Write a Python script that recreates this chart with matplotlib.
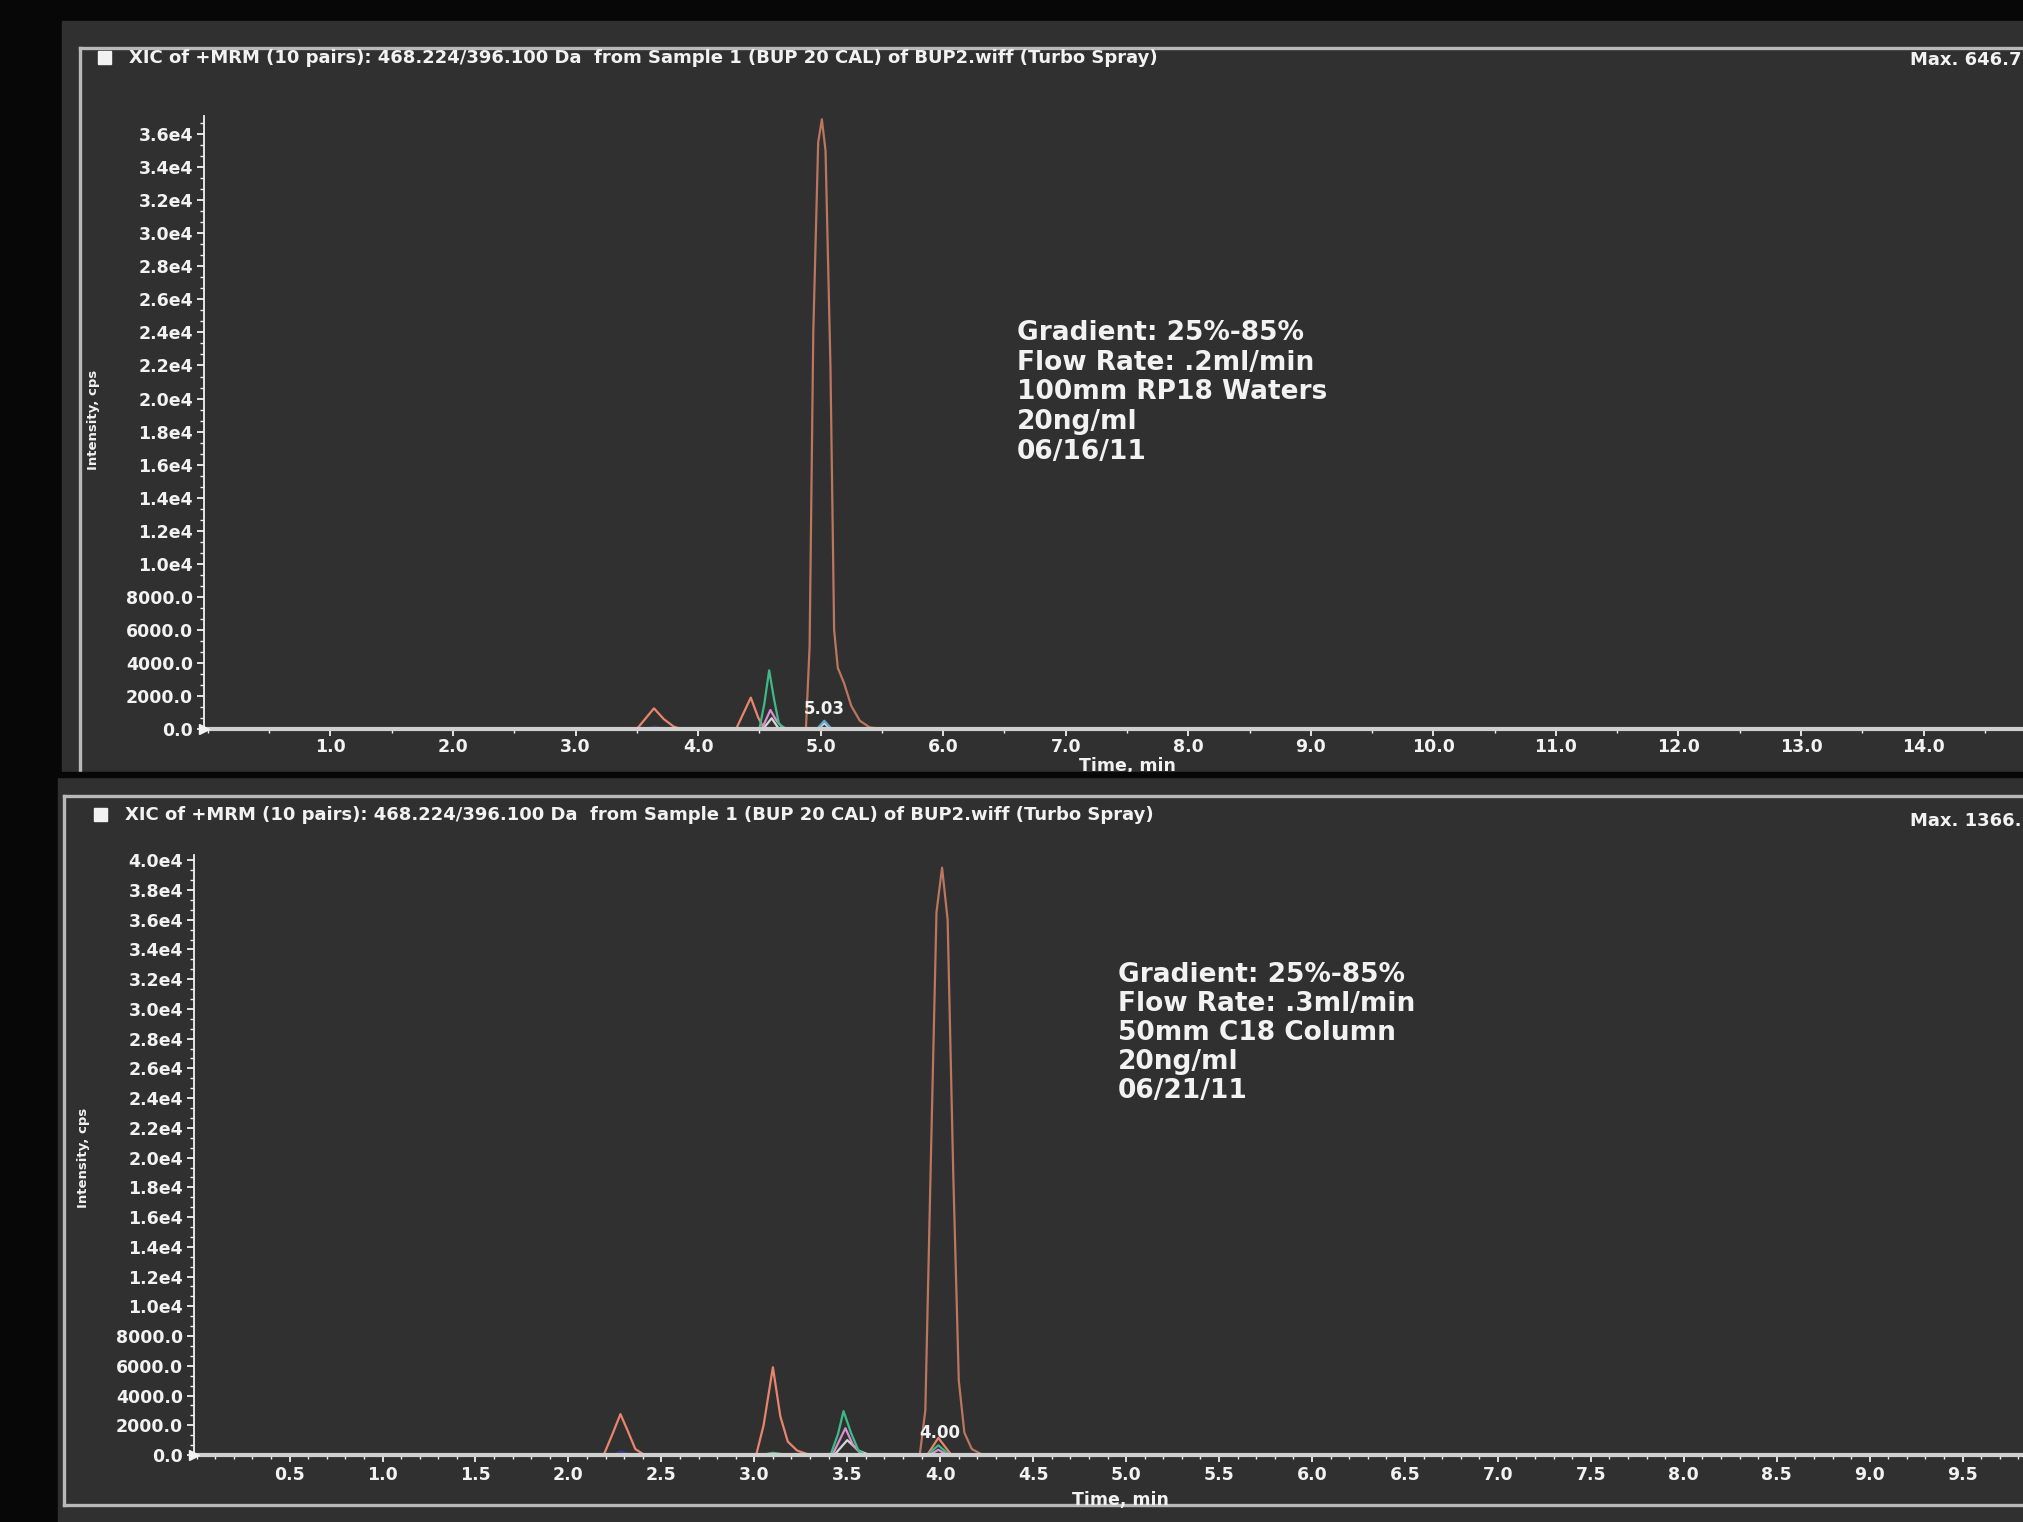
#!/usr/bin/env python3
"""
Two XIC chromatogram screenshots (BUP 20 CAL), stacked: 100mm RP18 run on top,
50mm C18 run below. Saves out.png.
"""

import matplotlib.pyplot as plt
from matplotlib.patches import Rectangle
from matplotlib.lines import Line2D
from matplotlib.ticker import FixedLocator, AutoMinorLocator, FuncFormatter

W, H = 2024, 1522

TITLE = "XIC of +MRM (10 pairs): 468.224/396.100 Da  from Sample 1 (BUP 20 CAL) of BUP2.wiff (Turbo Spray)"

# ---- top run ----
TOP_MAX = "Max. 646.7"
TOP_NOTES = ["Gradient: 25%-85%", "Flow Rate: .2ml/min", "100mm RP18 Waters", "20ng/ml", "06/16/11"]
TOP_RT = 5.03
TOP_RT_LABEL = "5.03"
TOP_YTICKS = [0, 2000, 4000, 6000, 8000, 10000, 12000, 14000, 16000, 18000,
              20000, 22000, 24000, 26000, 28000, 30000, 32000, 34000, 36000]
TOP_XTICKS = [1.0, 2.0, 3.0, 4.0, 5.0, 6.0, 7.0, 8.0, 9.0, 10.0, 11.0, 12.0, 13.0, 14.0]

TOP_BROWN_T = [0.0, 4.88, 4.91, 4.94, 4.98, 5.01, 5.04, 5.08, 5.11, 5.14, 5.19, 5.25, 5.32, 5.40, 5.50, 14.85]
TOP_BROWN_I = [0, 0, 5000, 24000, 35500, 36900, 35000, 22000, 6000, 3700, 2800, 1400, 500, 100, 0, 0]
TOP_SALMON_T = [0.0, 3.50, 3.64, 3.72, 3.80, 3.86, 4.31, 4.43, 4.49, 4.54, 14.85]
TOP_SALMON_I = [0, 0, 1250, 600, 150, 0, 0, 1900, 700, 0, 0]
TOP_GREEN_T = [0.0, 4.50, 4.54, 4.58, 4.62, 4.66, 4.72, 14.85]
TOP_GREEN_I = [0, 0, 1500, 3550, 1800, 300, 0, 0]
TOP_PINK_T = [0.0, 4.52, 4.59, 4.64, 4.70, 14.85]
TOP_PINK_I = [0, 0, 1150, 500, 0, 0]
TOP_WHITE_T = [0.0, 4.53, 4.60, 4.66, 4.98, 5.03, 5.08, 14.85]
TOP_WHITE_I = [0, 0, 650, 0, 0, 350, 0, 0]
TOP_BLUE_T = [0.0, 4.97, 5.03, 5.09, 14.85]
TOP_BLUE_I = [0, 0, 500, 0, 0]
TOP_FILL_T = [3.52, 3.64, 3.78]
TOP_FILL_I = [0, 250, 0]

# ---- bottom run ----
BOT_MAX = "Max. 1366."
BOT_NOTES = ["Gradient: 25%-85%", "Flow Rate: .3ml/min", "50mm C18 Column", "20ng/ml", "06/21/11"]
BOT_RT = 4.00
BOT_RT_LABEL = "4.00"
BOT_YTICKS = [0, 2000, 4000, 6000, 8000, 10000, 12000, 14000, 16000, 18000, 20000,
              22000, 24000, 26000, 28000, 30000, 32000, 34000, 36000, 38000, 40000]
BOT_XTICKS = [0.5, 1.0, 1.5, 2.0, 2.5, 3.0, 3.5, 4.0, 4.5, 5.0, 5.5, 6.0, 6.5, 7.0, 7.5, 8.0, 8.5, 9.0, 9.5]

BOT_BROWN_T = [0.0, 3.89, 3.92, 3.95, 3.98, 4.01, 4.04, 4.07, 4.10, 4.13, 4.17, 4.23, 9.84]
BOT_BROWN_I = [0, 0, 3000, 20000, 36500, 39500, 36000, 19000, 5000, 1500, 400, 0, 0]
BOT_SALMON_T = [0.0, 2.19, 2.24, 2.28, 2.32, 2.36, 2.41, 3.01, 3.05, 3.10, 3.14, 3.18, 3.23, 3.30,
                3.93, 3.99, 4.06, 9.84]
BOT_SALMON_I = [0, 0, 1500, 2750, 1600, 400, 0, 0, 2000, 5900, 2600, 900, 300, 0,
                0, 1150, 0, 0]
BOT_GREEN_T = [0.0, 3.04, 3.10, 3.18, 3.41, 3.45, 3.48, 3.52, 3.56, 3.60, 3.93, 3.99, 4.05, 9.84]
BOT_GREEN_I = [0, 0, 150, 0, 0, 1400, 2950, 1500, 300, 0, 0, 650, 0, 0]
BOT_PINK_T = [0.0, 3.42, 3.49, 3.53, 3.58, 3.94, 3.99, 4.04, 9.84]
BOT_PINK_I = [0, 0, 1800, 700, 0, 0, 350, 0, 0]
BOT_WHITE_T = [0.0, 3.43, 3.50, 3.56, 3.62, 9.84]
BOT_WHITE_I = [0, 0, 1000, 300, 0, 0]
BOT_FILL_T = [2.21, 2.28, 2.37]
BOT_FILL_I = [0, 350, 0]

SCREEN = "#303030"
INK = "#f2f2f2"
FRAME = "#b9b9b9"


def fx(px):
    return px / W


def fy(py):
    return 1 - py / H


def intensity_label(v, _pos=None):
    if v < 10000:
        return f"{v:.1f}"
    return f"{v / 1e4:.1f}e4"


def draw_screen(fig, box, frame_left, frame_top, frame_bottom, square_x, title_x, title_y,
                max_text, max_y):
    x0, y0, x1, y1 = box
    # zorder below the axes so the chromatogram sits on top of the screen
    fig.patches.append(Rectangle((fx(x0), fy(y1)), fx(x1 - x0), (y1 - y0) / H,
                                 transform=fig.transFigure, color=SCREEN, zorder=-2))
    lines = [([frame_left, W], [frame_top, frame_top]),
             ([frame_left, frame_left], [frame_top, frame_bottom if frame_bottom else y1])]
    if frame_bottom:
        lines.append(([frame_left, W], [frame_bottom, frame_bottom]))
    for xs, ys in lines:
        fig.lines.append(Line2D([fx(v) for v in xs], [fy(v) for v in ys], transform=fig.transFigure,
                                color=FRAME, lw=2.4, zorder=-1))
    fig.patches.append(Rectangle((fx(square_x), fy(title_y + 6)), fx(13), 13 / H,
                                 transform=fig.transFigure, color=INK, zorder=2))
    fig.text(fx(title_x), fy(title_y), TITLE, color=INK, fontsize=13, fontweight="bold",
             va="center", ha="left")
    fig.text(fx(W - 2), fy(max_y), max_text, color=INK, fontsize=13, fontweight="bold",
             va="center", ha="right")


def draw_chromatogram(fig, rect, xlim, ymax, xticks, yticks, xminor, xpad, traces, fill, rt,
                      rt_label, rt_y, ylabel_xy, notes, notes_xy, time_xy):
    ax = fig.add_axes(rect)
    ax.set_facecolor("none")
    ax.set_xlim(*xlim)
    ax.set_ylim(0, ymax)
    for side in ("top", "right"):
        ax.spines[side].set_visible(False)
    ax.spines["left"].set_color(INK)
    ax.spines["left"].set_linewidth(1.3)
    ax.spines["bottom"].set_color("#cfcfcf")
    ax.spines["bottom"].set_linewidth(3)

    ax.xaxis.set_major_locator(FixedLocator(xticks))
    ax.xaxis.set_minor_locator(AutoMinorLocator(xminor))
    ax.xaxis.set_major_formatter(FuncFormatter(lambda v, _p: f"{v:.1f}"))
    ax.yaxis.set_major_locator(FixedLocator(yticks))
    ax.yaxis.set_minor_locator(AutoMinorLocator(3))
    ax.yaxis.set_major_formatter(FuncFormatter(intensity_label))
    ax.tick_params(axis="both", which="major", colors=INK, labelsize=12.5, length=5, width=1.3)
    ax.tick_params(axis="both", which="minor", colors=INK, length=3, width=1)
    ax.tick_params(axis="y", which="major", pad=3)
    ax.tick_params(axis="x", which="major", pad=xpad)
    for lab in ax.get_xticklabels() + ax.get_yticklabels():
        lab.set_fontweight("bold")

    ft, fi = fill
    ax.fill_between(ft, fi, color="#3b3a8c", alpha=0.9, lw=0)
    for t, i, color in traces:
        ax.plot(t, i, color=color, lw=1.6, solid_joinstyle="round")
    # the little arrow at the origin of the Analyst plot
    ax.plot([0], [0], marker=">", color=INK, markersize=7, clip_on=False, zorder=5,
            transform=ax.transAxes)
    ax.text(rt, rt_y, rt_label, color=INK, fontsize=12, fontweight="bold", ha="center", va="center")

    fig.text(fx(ylabel_xy[0]), fy(ylabel_xy[1]), "Intensity, cps", color=INK, fontsize=9.5,
             fontweight="bold", rotation=90, ha="center", va="center")
    nx, ny, step = notes_xy
    for k, note in enumerate(notes):
        fig.text(fx(nx), fy(ny + k * step), note, color=INK, fontsize=19, fontweight="bold",
                 ha="left", va="center")
    fig.text(fx(time_xy[0]), fy(time_xy[1]), "Time, min", color=INK, fontsize=12.5,
             fontweight="bold", ha="center", va="center")
    return ax


def main():
    plt.rcParams["font.family"] = ["DejaVu Sans"]
    fig = plt.figure(figsize=(W / 100, H / 100), dpi=100)
    fig.patch.set_facecolor("#070707")

    # top screen
    draw_screen(fig, (62, 21, W, 772), frame_left=80, frame_top=48, frame_bottom=None,
                square_x=98, title_x=129, title_y=58, max_text=TOP_MAX, max_y=60)
    top_traces = [
        (TOP_BROWN_T, TOP_BROWN_I, "#bb765e"),
        (TOP_SALMON_T, TOP_SALMON_I, "#e8866c"),
        (TOP_WHITE_T, TOP_WHITE_I, "#d6d6d6"),
        (TOP_PINK_T, TOP_PINK_I, "#d98fd0"),
        (TOP_GREEN_T, TOP_GREEN_I, "#3dbb86"),
        (TOP_BLUE_T, TOP_BLUE_I, "#5ea9d0"),
    ]
    draw_chromatogram(fig, [fx(204), fy(729), fx(W - 204), (729 - 116) / H], (-0.032, 14.82), 37100,
                      TOP_XTICKS, TOP_YTICKS, 2, 1.5, top_traces, (TOP_FILL_T, TOP_FILL_I),
                      TOP_RT, TOP_RT_LABEL, 1200, (94, 420), TOP_NOTES, (1017, 333, 29.7), (1127, 766))

    # bottom screen
    draw_screen(fig, (58, 777, W, H), frame_left=64, frame_top=796, frame_bottom=1505,
                square_x=94, title_x=125, title_y=815, max_text=BOT_MAX, max_y=821)
    bot_traces = [
        (BOT_BROWN_T, BOT_BROWN_I, "#bb765e"),
        (BOT_SALMON_T, BOT_SALMON_I, "#e8866c"),
        (BOT_WHITE_T, BOT_WHITE_I, "#d6d6d6"),
        (BOT_PINK_T, BOT_PINK_I, "#d98fd0"),
        (BOT_GREEN_T, BOT_GREEN_I, "#3dbb86"),
    ]
    draw_chromatogram(fig, [fx(194), fy(1455), fx(W - 194), (1455 - 855) / H], (-0.014, 9.83), 40350,
                      BOT_XTICKS, BOT_YTICKS, 5, 3, bot_traces, (BOT_FILL_T, BOT_FILL_I),
                      BOT_RT, BOT_RT_LABEL, 1450, (84, 1158), BOT_NOTES, (1118, 975, 29.0), (1120, 1500))

    # dark seam between the two photographed screens
    fig.patches.append(Rectangle((0, fy(777)), 1, 5 / H, transform=fig.transFigure,
                                 color="#070707", zorder=10))

    fig.savefig("out.png", dpi=100, facecolor=fig.get_facecolor())


if __name__ == "__main__":
    main()
